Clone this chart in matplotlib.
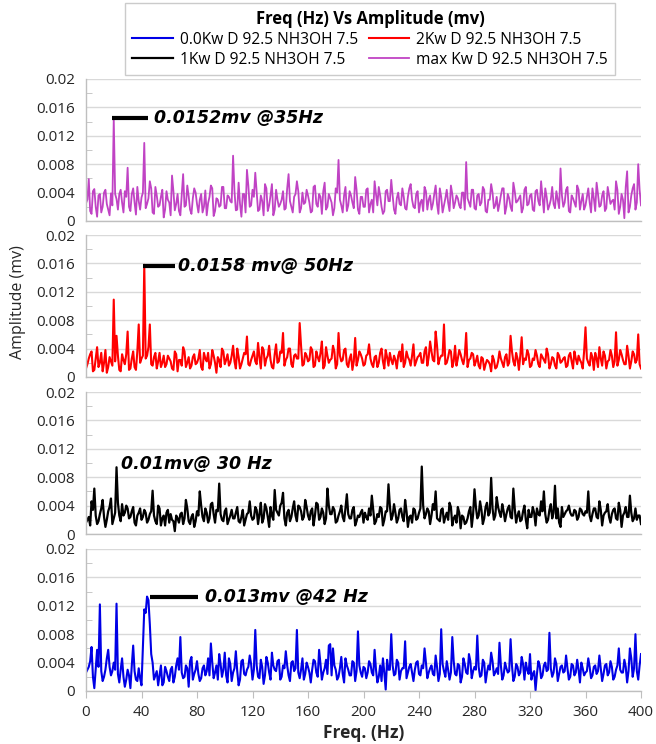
import numpy as np
import matplotlib
matplotlib.use("Agg")
import matplotlib.pyplot as plt
from matplotlib.ticker import MultipleLocator, FuncFormatter

# frequency axis, one reading per Hz
freq = np.arange(0, 401)

# amplitudes, in units of 0.001 mv
# *_even: readings at 0, 2, 4 ... 400 Hz ; *_odd: readings at 1, 3, 5 ... 399 Hz
max_even = [2.5, 5.9, 1.0, 4.5, 0.6, 3.8, 2.0, 4.4, 1.6, 3.9, 14.4, 3.1, 3.8, 2.6, 4.2, 7.5, 1.4, 4.6, 0.9, 2.8, 3.3,
            11.0, 2.4, 5.6, 1.2, 4.8, 2.0, 3.4, 0.5, 4.2, 2.6, 6.4, 1.5, 3.8, 0.8, 6.6, 2.2, 3.5, 1.0, 4.6, 2.4,
            3.0, 1.2, 4.3, 2.5, 5.0, 0.7, 3.2, 2.0, 4.8, 1.8, 3.6, 2.8, 9.2, 1.5, 5.4, 0.6, 3.8, 7.2, 2.0, 4.4,
            6.8, 1.4, 3.6, 0.8, 4.6, 2.2, 5.2, 1.6, 3.0, 2.4, 4.2, 1.8, 6.6, 2.0, 3.4, 5.6, 1.2, 4.0, 2.6, 3.6,
            1.2, 4.8, 2.4, 3.8, 1.0, 5.4, 2.0, 3.2, 0.8, 4.6, 8.6, 2.2, 3.6, 1.4, 4.2, 2.6, 6.2, 1.6, 3.4, 2.0,
            4.4, 1.2, 3.0, 5.6, 2.2, 3.6, 1.0, 4.2, 2.8, 5.8, 1.6, 3.2, 2.4, 4.6, 1.8, 3.4, 5.2, 2.0, 3.8, 1.2,
            3.0, 4.8, 1.6, 3.6, 2.4, 5.0, 1.0, 3.4, 2.2, 4.4, 1.4, 3.8, 2.6, 3.2, 1.8, 4.0, 8.3, 2.6, 4.4, 1.8,
            3.6, 2.2, 4.8, 1.4, 3.0, 5.2, 1.8, 3.4, 2.4, 4.6, 1.0, 3.8, 2.0, 5.4, 2.6, 3.2, 1.2, 4.4, 2.2, 3.6,
            1.6, 4.2, 2.8, 5.6, 1.2, 3.4, 2.2, 4.8, 1.8, 3.0, 7.4, 2.0, 4.4, 1.4, 3.6, 2.6, 5.0, 1.6, 3.8, 2.2,
            4.6, 1.2, 3.2, 5.4, 2.0, 3.6, 1.4, 4.8, 2.4, 3.0, 5.6, 1.0, 3.8, 0.4, 7.0, 2.0, 4.6, 1.6, 8.0, 2.2]
max_odd = [3.0, 1.4, 4.2, 2.0, 3.6, 1.2, 4.0, 2.4, 0.8, 2.2, 3.8, 1.6, 4.4, 1.2, 3.4, 2.0, 3.8, 2.6, 4.8, 1.6,
           4.0, 1.8, 3.2, 4.6, 1.0, 3.6, 2.2, 4.4, 1.6, 3.0, 0.8, 4.2, 2.4, 1.4, 3.8, 2.0, 5.0, 1.6, 3.2, 4.0,
           1.2, 3.8, 2.0, 0.8, 3.4, 4.6, 1.4, 3.0, 2.2, 4.8, 1.8, 3.4, 2.6, 4.2, 1.6, 2.4, 3.8, 1.2, 5.0, 2.2,
           3.4, 4.0, 1.6, 2.8, 5.2, 1.4, 3.6, 0.8, 4.4, 2.0, 3.0, 1.6, 4.6, 2.8, 1.2, 3.8, 4.2, 1.8, 2.4, 4.4,
           2.6, 1.4, 5.0, 2.0, 3.4, 4.2, 1.6, 3.8, 2.6, 1.8, 4.0, 3.0, 1.2, 4.8, 2.2, 3.6, 1.8, 4.4, 1.0, 3.4,
           2.0, 4.6, 2.4, 1.2, 3.8, 4.8, 2.0, 1.4, 4.4, 2.8, 3.6, 1.0, 4.0, 2.2, 3.4, 1.6, 4.6, 3.0, 1.8, 4.2,
           2.6, 1.4, 4.2, 3.0, 1.6, 3.8, 2.4, 4.6, 1.2, 3.2, 2.6, 5.0, 1.8, 3.6, 2.2, 4.0, 1.6, 3.2, 2.0, 4.4,
           1.6, 3.8, 2.6, 4.4, 1.2, 3.0, 4.0, 2.2, 1.4, 3.6, 4.6, 2.0, 3.2, 1.4, 4.2, 2.8, 3.6, 1.8, 4.8, 2.4,
           3.8, 1.4, 4.4, 2.2, 3.4, 4.6, 1.6, 3.0, 2.4, 4.2, 1.8, 3.6, 2.6, 4.8, 1.2, 3.2, 2.0, 4.4, 2.8, 1.6,
           3.4, 2.6, 4.6, 1.4, 3.8, 2.2, 4.2, 1.8, 3.6, 2.8, 1.6, 4.4, 2.0, 3.0, 4.8, 1.2, 3.6, 5.2, 2.6, 4.4]

kw2_even = [1.2, 2.6, 3.6, 1.0, 4.2, 2.0, 0.8, 3.8, 1.4, 2.2, 10.9, 5.8, 1.0, 3.2, 1.8, 6.4, 1.2, 3.6, 1.0, 7.4, 2.6,
            15.8, 3.0, 7.4, 1.6, 3.4, 2.2, 1.4, 3.0, 1.8, 2.6, 1.2, 3.6, 0.8, 2.4, 4.2, 1.4, 2.8, 1.6, 3.2, 2.0,
            3.8, 1.0, 2.6, 3.4, 1.8, 3.0, 0.6, 2.4, 4.0, 1.8, 3.2, 2.0, 4.4, 1.2, 2.8, 1.8, 3.4, 5.7, 1.6, 3.0,
            2.2, 4.8, 1.2, 3.8, 2.6, 4.4, 1.4, 3.2, 2.0, 3.6, 6.2, 2.4, 4.0, 1.8, 3.0, 2.6, 7.6, 1.6, 3.4, 2.2,
            4.2, 1.4, 3.6, 2.2, 5.0, 1.6, 3.0, 2.4, 4.4, 1.2, 6.2, 2.2, 3.8, 1.8, 2.6, 1.0, 5.5, 2.4, 3.2, 1.6,
            3.0, 4.6, 1.8, 2.8, 1.4, 3.4, 2.2, 3.8, 1.6, 2.4, 3.0, 1.2, 3.6, 4.6, 2.0, 2.8, 1.6, 4.6, 2.2, 3.0,
            2.0, 3.6, 1.6, 5.0, 2.4, 6.4, 1.8, 3.0, 7.4, 2.0, 3.8, 1.4, 4.4, 2.6, 3.2, 1.8, 6.2, 2.4, 3.4, 1.6,
            3.0, 1.2, 2.6, 1.8, 2.2, 0.8, 2.4, 1.4, 3.6, 2.0, 2.8, 1.6, 5.8, 2.2, 3.4, 1.0, 5.6, 2.6, 3.8, 1.4,
            2.6, 3.8, 1.8, 3.2, 2.4, 4.0, 1.2, 2.8, 1.6, 3.4, 2.0, 2.6, 1.4, 3.0, 2.2, 3.6, 1.8, 2.4, 1.2, 7.0,
            2.0, 3.4, 1.0, 2.6, 4.2, 1.6, 3.0, 2.2, 3.8, 1.4, 6.3, 2.4, 3.2, 1.8, 4.4, 1.2, 3.6, 2.0, 6.0, 1.2]
kw2_odd = [1.8, 3.2, 0.8, 2.6, 1.4, 3.4, 2.0, 0.6, 2.8, 1.6, 2.2, 3.0, 0.8, 2.4, 3.2, 1.0, 2.6, 1.4, 3.6, 2.0,
           3.0, 2.6, 4.2, 1.8, 2.8, 1.2, 3.4, 2.0, 1.4, 3.0, 2.2, 1.0, 3.2, 2.4, 1.6, 3.6, 2.0, 1.2, 2.8, 1.8,
           2.6, 1.4, 3.4, 2.2, 1.2, 3.8, 2.0, 2.8, 1.4, 3.6, 2.4, 1.6, 3.0, 2.2, 4.0, 1.2, 2.6, 3.2, 1.8, 2.4,
           3.6, 1.8, 2.8, 4.2, 1.6, 3.0, 2.4, 1.2, 4.6, 2.2, 3.4, 1.6, 2.8, 4.0, 1.4, 3.2, 2.6, 4.4, 1.8, 3.0,
           2.4, 3.8, 1.6, 2.8, 3.4, 1.2, 4.2, 2.0, 2.6, 3.6, 1.8, 3.0, 2.4, 4.0, 1.4, 3.2, 2.2, 1.6, 3.6, 2.6,
           1.8, 3.2, 2.6, 1.4, 3.0, 2.0, 4.0, 1.2, 2.8, 3.4, 1.8, 2.4, 3.0, 2.2, 1.4, 3.6, 2.4, 3.0, 1.6, 2.8,
           3.4, 2.0, 4.2, 2.8, 3.6, 2.2, 4.4, 2.6, 3.0, 1.8, 2.8, 3.6, 2.2, 1.6, 3.8, 2.4, 3.0, 1.4, 2.6, 3.2,
           2.2, 1.6, 2.8, 1.0, 2.4, 1.8, 3.0, 1.2, 2.2, 2.6, 1.4, 3.2, 2.0, 3.6, 1.6, 2.6, 3.0, 1.8, 2.4, 3.2,
           1.6, 2.4, 3.0, 1.4, 2.8, 2.0, 3.2, 1.8, 2.6, 1.2, 3.0, 2.2, 2.8, 1.6, 3.4, 1.2, 2.6, 3.0, 2.0, 3.6,
           2.6, 1.6, 2.8, 3.4, 1.4, 2.6, 3.6, 1.2, 2.4, 3.0, 2.2, 1.6, 3.8, 2.4, 1.8, 3.0, 2.2, 3.2, 2.4, 1.8]

kw1_even = [1.6, 2.4, 4.6, 6.4, 1.4, 2.8, 4.8, 1.0, 3.2, 5.0, 2.2, 9.4, 2.6, 4.2, 3.0, 3.6, 2.4, 3.8, 1.2, 3.0, 2.0,
            3.4, 1.6, 2.8, 6.1, 1.8, 4.0, 1.2, 2.6, 3.0, 1.6, 2.0, 0.4, 2.2, 2.8, 1.4, 4.8, 1.8, 2.4, 1.0, 3.2,
            6.0, 2.4, 3.6, 1.6, 4.2, 2.8, 3.4, 7.1, 2.0, 3.2, 1.4, 2.6, 2.2, 3.0, 1.8, 2.4, 1.2, 2.8, 4.6, 2.0,
            3.8, 1.4, 4.4, 2.2, 3.6, 1.0, 2.6, 6.2, 3.0, 4.0, 5.8, 1.2, 3.4, 2.4, 4.6, 1.8, 3.8, 2.0, 4.8, 2.6,
            3.2, 1.2, 4.4, 2.0, 3.6, 1.4, 6.4, 2.8, 3.8, 1.6, 2.6, 4.0, 1.8, 5.6, 2.2, 3.4, 1.2, 2.6, 3.0, 1.6,
            2.4, 3.6, 5.4, 1.4, 2.8, 3.8, 1.2, 3.2, 7.0, 2.0, 4.2, 1.6, 3.4, 2.4, 4.8, 1.0, 2.6, 3.6, 2.0, 3.0,
            9.5, 2.2, 3.6, 1.4, 4.2, 6.0, 2.0, 3.4, 1.6, 3.0, 4.4, 1.2, 2.6, 3.8, 0.8, 2.4, 1.6, 3.2, 1.0, 6.3,
            2.2, 4.6, 1.4, 3.8, 2.6, 7.9, 2.0, 5.2, 3.0, 4.2, 1.8, 3.6, 2.4, 6.4, 1.6, 3.2, 2.0, 4.0, 0.8, 2.4,
            3.8, 1.2, 2.8, 4.6, 6.0, 1.6, 3.4, 2.2, 6.8, 3.6, 1.0, 2.4, 3.2, 4.0, 2.6, 3.4, 2.0, 3.6, 2.8, 3.2,
            6.0, 1.8, 3.6, 2.4, 4.6, 1.2, 3.0, 4.2, 1.6, 3.4, 2.2, 4.4, 1.0, 3.0, 2.4, 5.4, 1.8, 3.6, 2.6, 1.4]
kw1_odd = [2.0, 1.2, 3.4, 2.6, 1.8, 3.6, 2.4, 2.0, 3.8, 1.4, 3.0, 4.4, 1.8, 2.6, 4.0, 2.2, 3.2, 1.6, 2.6, 3.6,
           2.4, 3.0, 2.0, 3.2, 2.6, 1.4, 3.6, 2.2, 1.2, 3.4, 2.8, 1.8, 2.6, 1.6, 3.0, 2.2, 3.6, 1.4, 2.8, 1.8,
           2.6, 4.0, 1.8, 3.0, 2.2, 4.4, 1.6, 3.2, 2.8, 1.8, 3.6, 2.0, 3.4, 2.2, 3.8, 1.6, 3.4, 2.0, 3.0, 2.6,
           2.2, 3.4, 2.8, 1.6, 4.2, 2.4, 3.8, 2.0, 3.4, 2.6, 4.4, 2.2, 3.0, 1.8, 3.6, 2.6, 4.0, 3.2, 2.4, 3.8,
           2.0, 3.6, 2.6, 4.2, 2.4, 3.0, 2.2, 4.0, 2.8, 3.4, 1.8, 3.2, 2.4, 3.6, 2.8, 2.2, 3.8, 1.8, 2.4, 3.4,
           3.0, 2.0, 2.6, 3.4, 1.8, 2.4, 3.6, 2.0, 3.2, 4.0, 2.6, 3.0, 2.2, 3.6, 1.8, 3.2, 2.4, 1.6, 3.4, 2.2,
           3.6, 4.0, 2.8, 3.2, 2.6, 3.4, 2.2, 1.8, 3.6, 2.4, 2.0, 3.8, 2.2, 1.6, 3.0, 2.6, 1.4, 2.2, 3.8, 2.8,
           3.8, 2.6, 3.4, 2.2, 4.4, 3.0, 3.6, 2.6, 3.8, 2.4, 3.2, 2.8, 4.0, 2.2, 3.6, 2.6, 1.8, 3.2, 2.0, 3.4,
           2.4, 3.0, 3.6, 2.6, 3.2, 2.8, 2.0, 4.2, 3.0, 2.2, 1.6, 3.8, 2.8, 3.4, 3.0, 2.6, 3.2, 2.4, 3.4, 2.6,
           3.0, 2.6, 2.8, 3.6, 2.2, 3.4, 2.6, 3.2, 2.4, 2.8, 3.6, 2.0, 3.4, 2.6, 3.8, 2.4, 3.0, 2.2, 2.0, 2.6]

kw0_even = [2.6, 3.4, 6.2, 0.4, 5.8, 12.2, 1.4, 3.0, 5.8, 2.2, 4.0, 12.3, 1.2, 4.6, 0.6, 3.0, 0.4, 6.4, 1.6, 3.2, 0.8,
            11.5, 13.3, 9.4, 4.0, 2.2, 0.8, 3.6, 1.2, 2.8, 1.4, 3.4, 2.0, 4.6, 7.6, 1.8, 3.6, 0.6, 4.8, 2.4, 4.2,
            1.4, 3.2, 2.2, 4.6, 6.7, 1.8, 3.6, 5.2, 2.0, 5.4, 1.2, 3.8, 2.6, 5.6, 0.8, 4.2, 2.4, 3.0, 5.0, 1.6,
            8.6, 2.0, 4.4, 1.0, 4.8, 2.6, 5.4, 3.0, 4.2, 1.6, 3.6, 5.6, 2.2, 4.0, 2.8, 8.6, 1.8, 4.6, 2.4, 3.4,
            1.2, 4.4, 2.6, 5.8, 1.6, 3.2, 2.4, 6.6, 6.0, 3.0, 2.0, 4.8, 1.2, 3.6, 2.2, 4.2, 1.4, 8.4, 2.6, 3.4,
            1.8, 4.2, 2.6, 5.8, 1.2, 3.6, 4.6, 0.2, 3.0, 8.0, 2.2, 4.4, 1.6, 3.2, 7.0, 2.6, 3.8, 1.4, 4.0, 2.4,
            3.6, 6.0, 1.8, 3.2, 2.4, 5.0, 1.4, 8.7, 2.8, 4.2, 1.6, 7.6, 2.4, 3.8, 1.2, 4.6, 2.6, 5.2, 1.8, 3.4,
            7.8, 2.0, 4.4, 1.2, 3.6, 5.4, 2.2, 3.2, 6.8, 1.6, 4.0, 2.6, 7.3, 1.4, 3.8, 2.2, 4.8, 1.6, 3.0, 5.2,
            2.4, 0.1, 4.2, 1.8, 3.6, 2.8, 8.2, 2.0, 4.6, 1.4, 3.4, 2.6, 5.0, 1.6, 3.8, 2.2, 4.4, 1.2, 3.2, 2.6,
            4.6, 1.8, 3.4, 2.4, 5.0, 1.4, 3.6, 2.2, 4.2, 1.6, 3.0, 6.0, 2.6, 4.4, 1.2, 6.0, 2.0, 8.0, 1.6, 5.2]
kw0_odd = [3.0, 4.2, 2.0, 3.2, 3.4, 2.8, 2.0, 4.6, 3.4, 2.8, 3.0, 2.4, 3.0, 2.0, 1.6, 2.2, 3.6, 2.8, 1.4, 1.8,
           6.0, 11.0, 12.8, 5.2, 1.6, 2.8, 2.2, 0.8, 3.4, 2.0, 3.0, 1.2, 3.6, 3.0, 2.6, 2.0, 3.2, 4.2, 1.6, 3.0,
           2.4, 1.8, 3.6, 2.8, 2.2, 4.0, 2.6, 1.6, 3.8, 3.0, 2.2, 4.6, 1.4, 3.2, 2.8, 1.6, 4.4, 2.2, 3.4, 3.8,
           3.0, 3.6, 1.8, 3.4, 2.2, 4.0, 1.6, 3.6, 2.8, 4.4, 2.0, 3.2, 3.6, 1.4, 4.2, 3.2, 2.6, 3.0, 1.6, 4.0,
           2.6, 3.0, 4.2, 2.0, 3.8, 2.6, 4.4, 6.4, 2.2, 3.6, 1.6, 3.2, 2.4, 4.6, 3.0, 2.2, 4.0, 2.8, 3.6, 2.0,
           3.2, 2.6, 3.8, 2.2, 3.0, 2.0, 1.4, 2.6, 4.4, 3.0, 3.6, 2.4, 4.0, 2.8, 3.2, 1.8, 3.4, 2.6, 3.0, 4.2,
           2.2, 3.2, 4.0, 2.6, 3.6, 2.2, 3.4, 2.4, 3.8, 2.0, 3.0, 2.6, 4.2, 2.2, 3.6, 2.0, 3.8, 2.4, 4.2, 2.8,
           3.0, 3.4, 2.2, 4.0, 2.6, 3.0, 4.2, 2.6, 2.4, 3.6, 2.2, 3.2, 2.8, 3.6, 2.0, 3.4, 2.6, 3.8, 4.0, 2.4,
           1.6, 2.8, 2.4, 3.6, 2.2, 4.0, 3.0, 3.2, 2.6, 3.8, 2.4, 3.6, 2.8, 3.2, 2.0, 3.6, 2.6, 3.0, 4.0, 2.2,
           2.8, 3.4, 2.2, 3.6, 2.8, 3.2, 2.4, 3.8, 2.6, 3.4, 2.0, 3.6, 3.0, 2.6, 3.4, 2.8, 4.6, 3.2, 2.8, 3.6]

labels = ["max Kw D 92.5 NH3OH 7.5", "2Kw D 92.5 NH3OH 7.5",
          "1Kw D 92.5 NH3OH 7.5", "0.0Kw D 92.5 NH3OH 7.5"]
colors = ["#C043C4", "#FF0000", "#000000", "#0000E6"]
widths = [1.3, 1.5, 1.6, 1.5]

# peak notes: text, line start/end (Hz), y, text x (Hz)
notes = [("0.0152mv @35Hz", 19, 45, 0.0145, 49),
         ("0.0158 mv@ 50Hz", 41, 64, 0.0156, 66),
         ("0.01mv@ 30 Hz", None, None, 0.0098, 25.5),
         ("0.013mv @42 Hz", 46, 81, 0.0132, 86)]


def merge(even, odd):
    assert len(even) == 201 and len(odd) == 200
    out = np.empty(401)
    out[0::2] = even
    out[1::2] = odd
    return out / 1000.0


plt.rcParams['font.family'] = ['Open Sans', 'DejaVu Sans']
fig = plt.figure(figsize=(6.56, 7.44), dpi=100)

series = [merge(max_even, max_odd), merge(kw2_even, kw2_odd),
          merge(kw1_even, kw1_odd), merge(kw0_even, kw0_odd)]
panel_px = [(79, 221), (235, 377), (392, 534), (549, 691)]
left, right = 86 / 656, 641 / 656
H = 744.0
axes = []
for k, (top, bot) in enumerate(panel_px):
    ax = fig.add_axes([left, 1 - bot / H, right - left, (bot - top) / H])
    ax.plot(freq, series[k], color=colors[k], lw=widths[k])
    ax.set_xlim(0, 400)
    ax.set_ylim(0, 0.02)
    ax.yaxis.set_major_locator(MultipleLocator(0.004))
    ax.yaxis.set_minor_locator(MultipleLocator(0.002))
    ax.yaxis.set_major_formatter(FuncFormatter(lambda v, p: f"{v:g}"))
    ax.xaxis.set_major_locator(MultipleLocator(40))
    ax.grid(axis='y', which='major', color='#D9D9D9', lw=1.0)
    ax.set_axisbelow(True)
    for s in ['top', 'right']:
        ax.spines[s].set_visible(False)
    for s in ['left', 'bottom']:
        ax.spines[s].set_color('#BFBFBF')
        ax.spines[s].set_linewidth(1.0)
    ax.tick_params(axis='y', which='major', length=0, labelsize=11, pad=8, labelcolor='#262626')
    ax.tick_params(axis='y', which='minor', length=4, direction='in', color='#BFBFBF')
    if k < 3:
        ax.tick_params(axis='x', which='both', length=0, labelbottom=False)
    else:
        ax.tick_params(axis='x', length=5, color='#BFBFBF', labelsize=11, pad=5, labelcolor='#262626')
        ax.set_xlabel("Freq. (Hz)", fontsize=12.5, fontweight='bold', color='#262626', labelpad=3)

    txt, x0, x1, yy, xt = notes[k]
    if x0 is not None:
        ax.plot([x0, x1], [yy, yy], color='black', lw=3, solid_capstyle='butt')
    ax.text(xt, yy, txt, fontsize=12.5, fontweight='bold', fontstyle='italic',
            family=['DejaVu Sans'], va='center', ha='left')
    axes.append(ax)

fig.text(18 / 656, 1 - 302 / H, "Amplitude (mv)", rotation=90, va='center', ha='center',
         fontsize=11.5, color='#262626')

handles = [axes[3].lines[0], axes[2].lines[0], axes[1].lines[0], axes[0].lines[0]]
leg_labels = [labels[3], labels[2], labels[1], labels[0]]
leg = fig.legend(handles, leg_labels, ncol=2, loc='upper center',
                 bbox_to_anchor=(370 / 656, 1 - 3 / H), fontsize=11.2,
                 title="Freq (Hz) Vs Amplitude (mv)",
                 title_fontproperties={'weight': 'bold', 'size': 12},
                 handlelength=2.6, columnspacing=0.7, handletextpad=0.45,
                 labelspacing=0.25, fancybox=False, edgecolor='#BFBFBF',
                 borderpad=0.45, borderaxespad=0)
leg.get_frame().set_linewidth(1.0)

fig.savefig("out.png", dpi=100)
